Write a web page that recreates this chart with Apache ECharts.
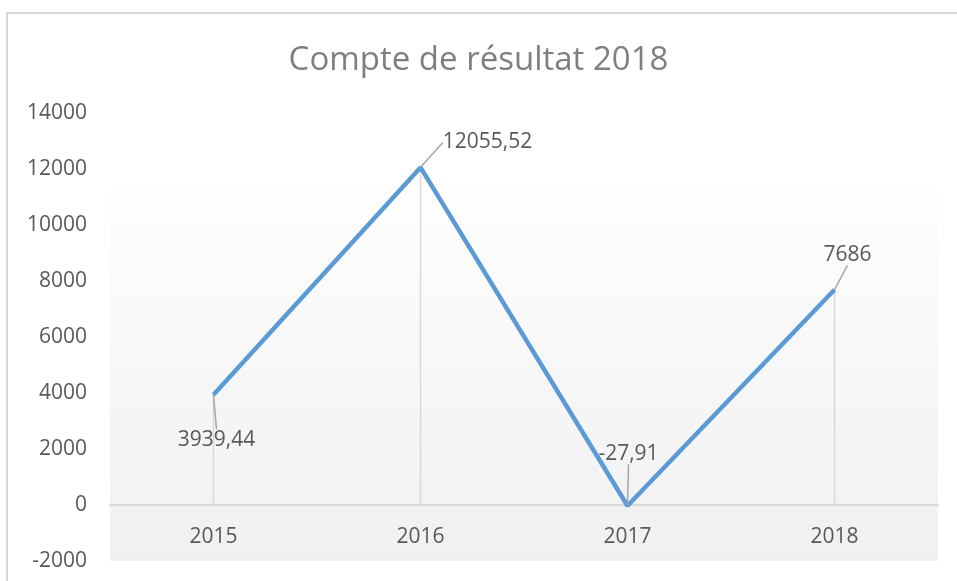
<!DOCTYPE html>
<html>
<head>
<meta charset="utf-8">
<script src="https://cdn.jsdelivr.net/npm/echarts@6/dist/echarts.min.js"></script>
<style>
html,body{margin:0;padding:0;background:#fff;}
#main{width:957px;height:581px;}
</style>
</head>
<body>
<div id="main"></div>
<script>
var title = 'Compte de résultat 2018';
var categories = ['2015', '2016', '2017', '2018'];
var values = [3939.44, 12055.52, -27.91, 7686];
var valueLabels = ['3939,44', '12055,52', '-27,91', '7686'];
var yMin = -2000, yMax = 14000, yStep = 2000;

// label displacement (dx, dy) relative to default 'top' position, per point
var labelShift = [[3, 61], [67, -9], [1, -36], [13, -19]];

var chart = echarts.init(document.getElementById('main'));
var FONT = 'Open Sans';

chart.setOption({
  animation: false,
  backgroundColor: '#ffffff',
  graphic: [{
    type: 'rect',
    shape: {x: 7, y: 13, width: 1000, height: 1000},
    style: {fill: 'none', stroke: '#d9d9d9', lineWidth: 2},
    silent: true, z: -10
  }],
  title: {
    text: title,
    left: 'center',
    top: 39,
    textStyle: {fontFamily: FONT, fontSize: 33, fontWeight: 'normal', color: '#7f7f7f'}
  },
  grid: {
    left: 110, right: 19, top: 113, bottom: 20,
    containLabel: false,
    outerBoundsMode: 'none',
    show: true,
    borderWidth: 0,
    backgroundColor: new echarts.graphic.LinearGradient(0, 0, 0, 1, [
      {offset: 0, color: '#ffffff'},
      {offset: 0.12, color: '#ffffff'},
      {offset: 1, color: '#f0f0f0'}
    ])
  },
  xAxis: {
    type: 'category',
    data: categories,
    boundaryGap: true,
    position: 'bottom',
    offset: -56,
    axisLine: {onZero: false, lineStyle: {color: '#d9d9d9', width: 2}},
    axisTick: {show: false},
    axisLabel: {fontFamily: FONT, fontSize: 21, color: '#595959', margin: 22}
  },
  yAxis: {
    type: 'value',
    min: yMin, max: yMax, interval: yStep,
    axisLine: {show: false},
    axisTick: {show: false},
    splitLine: {show: false},
    axisLabel: {
      fontFamily: FONT, fontSize: 21, color: '#595959', margin: 23,
      formatter: function (v) { return String(v); }
    }
  },
  series: [{
    type: 'bar',
    data: values,
    barWidth: 1.5,
    itemStyle: {color: '#d9d9d9'},
    silent: true,
    z: 1
  }, {
    type: 'line',
    data: values,
    symbol: 'circle',
    symbolSize: 1,
    showSymbol: true,
    lineStyle: {color: '#5b9bd5', width: 4.5},
    itemStyle: {color: '#5b9bd5'},
    z: 3,
    label: {
      show: true,
      position: 'top',
      fontFamily: FONT,
      fontSize: 21,
      color: '#595959',
      formatter: function (p) { return valueLabels[p.dataIndex]; }
    },
    labelLine: {show: true, lineStyle: {color: '#a6a6a6', width: 1.5}},
    labelLayout: function (p) {
      var s = labelShift[p.dataIndex];
      return {dx: s[0], dy: s[1]};
    }
  }]
});
</script>
</body>
</html>
